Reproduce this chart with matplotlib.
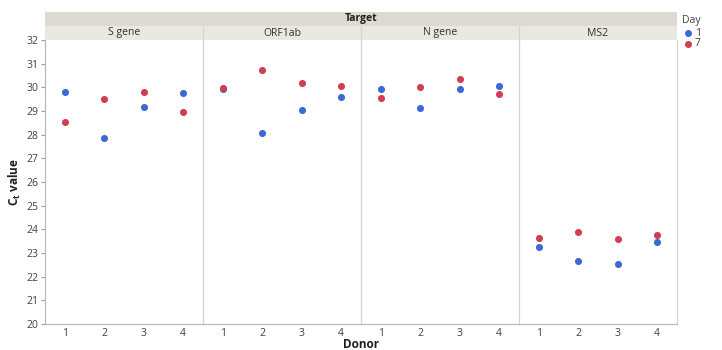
import matplotlib.pyplot as plt
from matplotlib.patches import Rectangle

# Data
targets = ["S gene", "ORF1ab", "N gene", "MS2"]
donors = [1, 2, 3, 4]
day1 = {
    "S gene": [29.79, 27.85, 29.18, 29.77],
    "ORF1ab": [29.92, 28.05, 29.04, 29.59],
    "N gene": [29.93, 29.13, 29.94, 30.04],
    "MS2": [23.25, 22.67, 22.55, 23.48],
}
day7 = {
    "S gene": [28.52, 29.49, 29.79, 28.96],
    "ORF1ab": [29.96, 30.74, 30.19, 30.05],
    "N gene": [29.55, 30.01, 30.35, 29.73],
    "MS2": [23.65, 23.90, 23.59, 23.76],
}
yticks = list(range(20, 33))

BLUE = "#3b6ad6"
RED = "#d03e52"
GRID = "#d4d4d4"
TXT = "#404040"

plt.rcParams['font.family'] = ['Open Sans', 'DejaVu Sans']
plt.rcParams['font.size'] = 7.5

W, H = 722, 350
fig = plt.figure(figsize=(W / 100, H / 100), dpi=100)

left, right, bottom, top = 45, 677, 324, 40
pw = (right - left) / len(targets)

for i, t in enumerate(targets):
    x0 = left + i * pw
    ax = fig.add_axes([x0 / W, 1 - bottom / H, pw / W, (bottom - top) / H])
    ax.scatter(donors, day1[t], s=26, color=BLUE, zorder=3, linewidths=0)
    ax.scatter(donors, day7[t], s=26, color=RED, zorder=4, linewidths=0)
    ax.set_xlim(0.5, 4.5)
    ax.set_ylim(20, 32)
    ax.set_xticks(donors)
    ax.tick_params(axis='x', length=0, pad=3, colors=TXT, labelsize=7.5)
    for s in ax.spines.values():
        s.set_color(GRID)
        s.set_linewidth(0.9)
    ax.spines['top'].set_visible(False)
    if i == 0:
        ax.set_yticks(yticks)
        ax.tick_params(axis='y', length=3, colors=TXT, labelsize=7.5, pad=2)
        ax.tick_params(axis='y', color="#a0a0a0")
        ax.spines['left'].set_color("#b8b8b8")
    else:
        ax.set_yticks([])
    if i < len(targets) - 1:
        ax.spines['right'].set_visible(False)
    ax.spines['bottom'].set_color("#b8b8b8")

    # facet strip
    fig.patches.append(Rectangle((x0 / W, 1 - 40 / H), pw / W, 14 / H,
                                 transform=fig.transFigure,
                                 facecolor="#e9e8e1", edgecolor="none"))
    fig.text((x0 + pw / 2) / W, 1 - 33 / H, t, ha='center', va='center',
             fontsize=7.5, color="#303030")
    if i > 0:
        fig.lines.append(plt.Line2D([x0 / W, x0 / W], [1 - 40 / H, 1 - 26 / H],
                                    transform=fig.transFigure,
                                    color=GRID, lw=0.9))

# "Target" band
fig.patches.append(Rectangle((left / W, 1 - 26 / H), (right - left) / W, 14 / H,
                             transform=fig.transFigure,
                             facecolor="#dcdad1", edgecolor="none"))
fig.text((left + right) / 2 / W, 1 - 19 / H, "Target", ha='center',
         va='center', fontsize=7.5, fontweight='bold', color="#202020")

# axis labels
fig.text(15 / W, 1 - 182 / H, "C$_\\mathregular{t}$ value", rotation=90,
         ha='center', va='center', fontsize=8.5, fontweight='bold',
         color="#202020")
fig.text((left + right) / 2 / W, 1 - 345 / H, "Donor", ha='center',
         va='center', fontsize=8.5, fontweight='bold', color="#202020")

# legend
fig.text(682 / W, 1 - 20 / H, "Day", ha='left', va='center', fontsize=7.5,
         color=TXT)
for k, (lab, c) in enumerate([("1", BLUE), ("7", RED)]):
    yy = 1 - (33 + 11 * k) / H
    fig.lines.append(plt.Line2D([688 / W], [yy], transform=fig.transFigure,
                                marker='o', markersize=4, color=c, lw=0))
    fig.text(695 / W, yy, lab, ha='left', va='center', fontsize=7.5, color=TXT)

fig.savefig("out.png", dpi=100, facecolor='white')
